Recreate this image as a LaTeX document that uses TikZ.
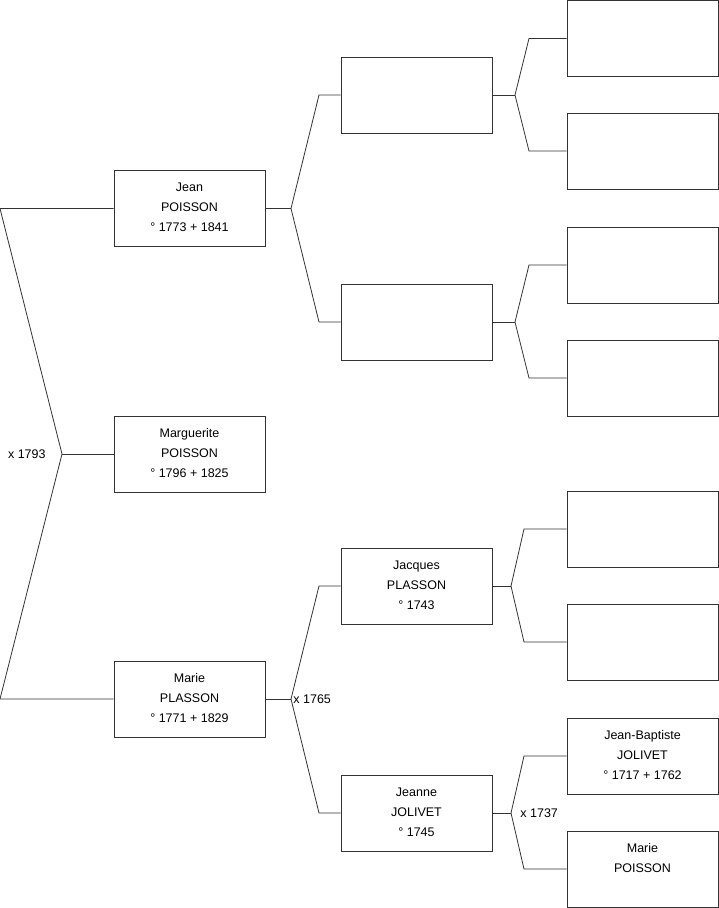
\documentclass[tikz,border=0pt]{standalone}
\usepackage{fontspec}
\setmainfont{Liberation Sans}
\usetikzlibrary{positioning,calc}
\definecolor{linegray}{gray}{0.2}
\newcommand{\who}[1]{\parbox[c][76pt][t]{151pt}{\fontsize{12.5}{20}\selectfont\centering\rule{0pt}{21pt}#1}}

\begin{document}
\begin{tikzpicture}[x=1pt, y=-1pt, line width=0.8pt,
    person/.style={draw=linegray, inner sep=0pt, minimum width=151pt, minimum height=76pt},
    link/.style={draw=linegray},
    wedding/.style={inner sep=2pt, font=\fontsize{12.5}{15}\selectfont}]
    \useasboundingbox (0,0) rectangle (719,908);
    % generation 1 and 2
    \node[person] (jean) at (189.5,208.5) {\who{Jean\\POISSON\\° 1773 + 1841}};
    \node[person] (marguerite) at (189.5,454) {\who{Marguerite\\POISSON\\° 1796 + 1825}};
    \node[person] (marie) at (189.5,699) {\who{Marie\\PLASSON\\° 1771 + 1829}};
    % generation 3
    \node[person] (jeanfa) at (416.5,95) {\who{}};
    \node[person] (jeanmo) at (416.5,322) {\who{}};
    \node[person] (jacques) at (416.5,586) {\who{Jacques\\PLASSON\\° 1743}};
    \node[person] (jeanne) at (416.5,813) {\who{Jeanne\\JOLIVET\\° 1745}};
    % generation 4
    \node[person] (gpa) at (642.5,38.5) {\who{}};
    \node[person] (gpb) at (642.5,151) {\who{}};
    \node[person] (gpc) at (642.5,265) {\who{}};
    \node[person] (gpd) at (642.5,378) {\who{}};
    \node[person] (gpe) at (642.5,529) {\who{}};
    \node[person] (gpf) at (642.5,642) {\who{}};
    \node[person] (jeanbaptiste) at (642.5,756) {\who{Jean-Baptiste\\JOLIVET\\° 1717 + 1762}};
    \node[person] (mariepoisson) at (642.5,869) {\who{Marie\\POISSON}};

    % couple of marguerite
    \coordinate (kmarg) at (62,454);
    \coordinate (tjean) at (0,208.5);
    \coordinate (tmarie) at (0,699);
    \draw[link] (jean.west) -- (tjean) -- (kmarg) -- (tmarie) -- (marie.west);
    \draw[link] (kmarg) -- (marguerite.west);
    \node[wedding, anchor=east] (w1793) at ([xshift=-14]kmarg) {x 1793};

    % parents of jean
    \coordinate (kjean) at (291,208.5);
    \draw[link] (jean.east) -- (kjean);
    \draw[link] (kjean) -- (319,95) -- (jeanfa.west);
    \draw[link] (kjean) -- (319,322) -- (jeanmo.west);

    % parents of marie
    \coordinate (kmarie) at (291,699);
    \draw[link] (marie.east) -- (kmarie);
    \draw[link] (kmarie) -- (319,586) -- (jacques.west);
    \draw[link] (kmarie) -- (319,813) -- (jeanne.west);
    \node[wedding, anchor=west] (w1765) at (kmarie) {x 1765};

    % generation 3 to 4
    \coordinate (kfa) at (515,95);
    \draw[link] (jeanfa.east) -- (kfa);
    \draw[link] (kfa) -- (529,38.5) -- (gpa.west);
    \draw[link] (kfa) -- (529,151) -- (gpb.west);
    \coordinate (kmo) at (515,322);
    \draw[link] (jeanmo.east) -- (kmo);
    \draw[link] (kmo) -- (529,265) -- (gpc.west);
    \draw[link] (kmo) -- (529,378) -- (gpd.west);
    \coordinate (kjac) at (511,586);
    \draw[link] (jacques.east) -- (kjac);
    \draw[link] (kjac) -- (524,529) -- (gpe.west);
    \draw[link] (kjac) -- (524,642) -- (gpf.west);
    \coordinate (kjea) at (511,813);
    \draw[link] (jeanne.east) -- (kjea);
    \draw[link] (kjea) -- (524,756) -- (jeanbaptiste.west);
    \draw[link] (kjea) -- (524,869) -- (mariepoisson.west);
    \node[wedding, anchor=west] (w1737) at ([xshift=7]kjea) {x 1737};
\end{tikzpicture}
\end{document}
